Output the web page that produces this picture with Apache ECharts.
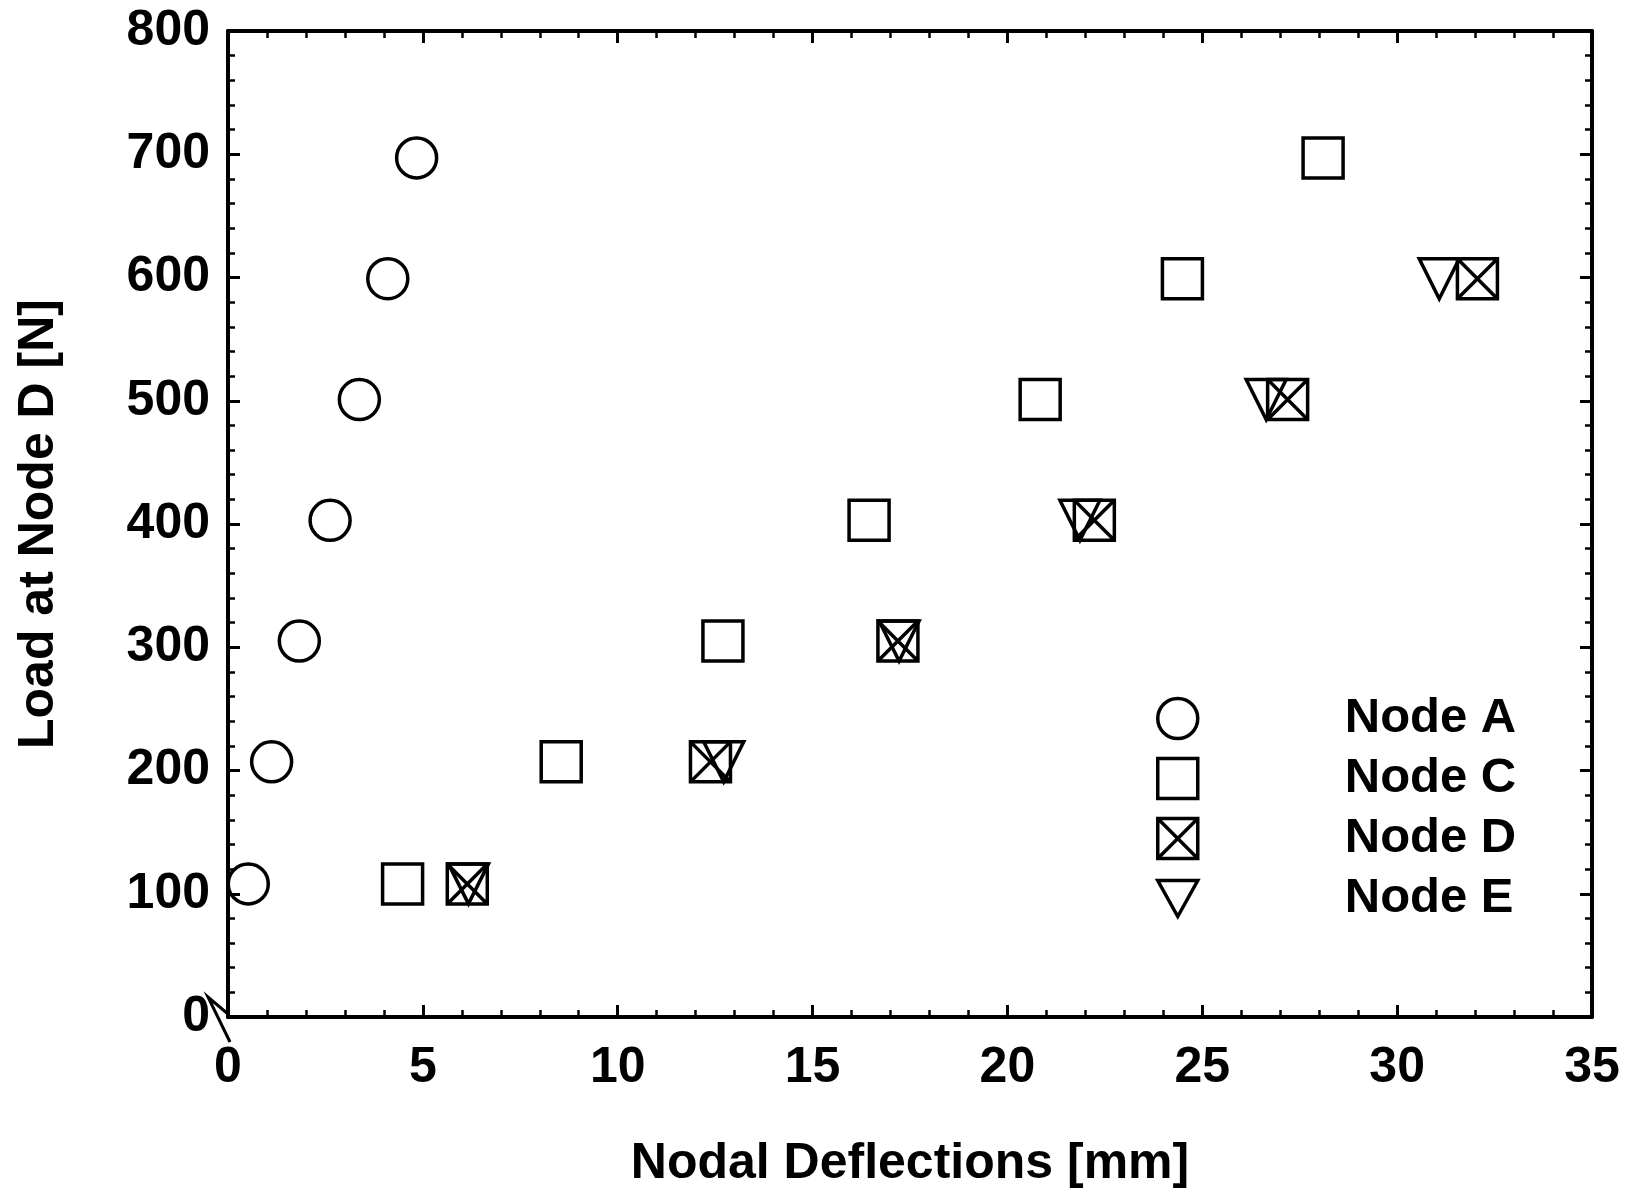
<!DOCTYPE html>
<html>
<head>
<meta charset="utf-8">
<script src="https://cdn.jsdelivr.net/npm/echarts@6/dist/echarts.min.js"></script>
<style>
  html, body { margin: 0; padding: 0; background: #fff; }
  #chart { width: 1626px; height: 1195px; }
</style>
</head>
<body>
<div id="chart"></div>
<script>
// load steps (N) and nodal deflections (mm)
const loads = [108, 207, 305, 403, 501, 599, 697];
const nodeA = [0.52, 1.12, 1.83, 2.62, 3.37, 4.10, 4.84];
const nodeC = [4.48, 8.55, 12.70, 16.45, 20.84, 24.49, 28.10];
const nodeD = [6.14, 12.38, 17.19, 22.23, 27.19, 32.06];
const nodeE = [6.17, 12.72, 17.22, 21.86, 26.64, 31.08];

const names = ['Node A', 'Node C', 'Node D', 'Node E'];
const symbols = [
  'circle',
  'rect',
  'path://M0,0 L10,0 L10,10 L0,10 Z M0,0 L10,10 M10,0 L0,10',
  'path://M0,0 L10,0 L5,9 Z'
];

const font = "'Liberation Sans', Arial, sans-serif";

// pair each deflection with its load
const pairs = (xs) => xs.map((x, i) => [x, loads[i]]);

const markerStyle = {
  color: 'rgba(0,0,0,0)',
  borderColor: '#000',
  borderWidth: 3.5,
  opacity: 1
};

const makeSeries = (name, xs, symbol) => ({
  name: name,
  type: 'scatter',
  data: pairs(xs),
  symbol: symbol,
  symbolSize: 40,
  itemStyle: markerStyle,
  emphasis: { disabled: true }
});

const axisCommon = {
  axisLine: { show: true, onZero: false, lineStyle: { color: '#000', width: 4 } },
  axisTick: { show: true, inside: true, length: 12, lineStyle: { color: '#000', width: 3 } },
  minorTick: { show: true, splitNumber: 5, length: 7, lineStyle: { color: '#000', width: 2.5 } },
  splitLine: { show: false }
};

const labelStyle = { fontFamily: font, fontWeight: 'bold', fontSize: 50, color: '#000' };

const chart = echarts.init(document.getElementById('chart'));

chart.setOption({
  animation: false,
  backgroundColor: '#fff',
  grid: { left: 228, right: 34, top: 31, bottom: 178 },
  xAxis: [
    Object.assign({
      type: 'value', min: 0, max: 35, interval: 5,
      name: 'Nodal Deflections [mm]',
      nameLocation: 'middle',
      nameGap: 122,
      nameTextStyle: labelStyle,
      axisLabel: Object.assign({ margin: 26 }, labelStyle)
    }, axisCommon),
    Object.assign({
      type: 'value', min: 0, max: 35, interval: 5, position: 'top',
      axisLabel: { show: false }
    }, axisCommon)
  ],
  yAxis: [
    Object.assign({
      type: 'value', min: 0, max: 800, interval: 100,
      name: 'Load at Node D [N]',
      nameLocation: 'middle',
      nameGap: 164,
      nameTextStyle: labelStyle,
      axisLabel: Object.assign({ margin: 18 }, labelStyle)
    }, axisCommon),
    Object.assign({
      type: 'value', min: 0, max: 800, interval: 100, position: 'right',
      axisLabel: { show: false }
    }, axisCommon)
  ],
  legend: {
    data: names,
    orient: 'vertical',
    left: 1151,
    top: 689,
    itemWidth: 40,
    itemHeight: 40,
    itemGap: 11,
    itemStyle: markerStyle,
    textStyle: {
      fontFamily: font, fontWeight: 'bold', fontSize: 49, color: '#000',
      padding: [0, 0, 0, 142]
    },
    selectedMode: false
  },
  // axis break mark near the origin
  graphic: [{
    type: 'polyline',
    shape: { points: [[228, 1014], [208, 997], [230, 1042]] },
    style: { stroke: '#000', lineWidth: 3, fill: null }
  }],
  series: [
    makeSeries(names[0], nodeA, symbols[0]),
    makeSeries(names[1], nodeC, symbols[1]),
    makeSeries(names[2], nodeD, symbols[2]),
    makeSeries(names[3], nodeE, symbols[3])
  ]
});
</script>
</body>
</html>
